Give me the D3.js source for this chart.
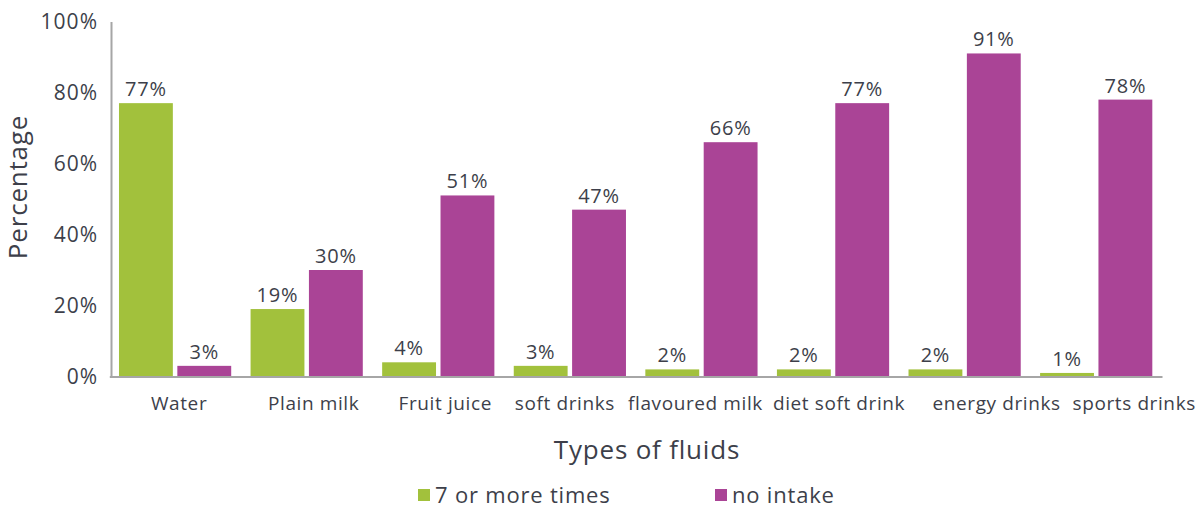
<!DOCTYPE html>
<html>
<head>
<meta charset="utf-8">
<script src="https://d3js.org/d3.v7.min.js"></script>
<style>
  body { margin: 0; background: #fff; }
  text { font-family: "Open Sans", sans-serif; fill: #3d3f4a; }
</style>
</head>
<body>
<div id="canvas"></div>
<script>
"use strict"

let svgWidth = 1201;
let svgHeight = 508;

/* plot area */
let leftMargin = 109.3
let rightMargin = 39
let topMargin = 21.5
let bottomMargin = 131.5
let yAxisX = 111

/* data */
let categories = ["Water", "Plain milk", "Fruit juice", "soft drinks",
    "flavoured milk", "diet soft drink", "energy drinks", "sports drinks"];
let sevenOrMore = [77, 19, 4, 3, 2, 2, 2, 1];
let noIntake = [3, 30, 51, 47, 66, 77, 91, 78];
let seriesNames = ["7 or more times", "no intake"];
let yTicks = [0, 20, 40, 60, 80, 100];

/* category labels are pushed sideways so the long ones do not collide */
let labelNudge = [4, 7, 7, -5, -6, 6, 32, 38];

let colors = ["#a2c13c", "#aa4496"];

let svg = d3.select("#canvas")
    .append("svg")
    .attr("width", svgWidth)
    .attr("height", svgHeight);

let xScale = d3.scaleBand()
    .domain(categories)
    .range([leftMargin, svgWidth - rightMargin])
    .paddingInner(0)
    .paddingOuter(0);

let subScale = d3.scaleBand()
    .domain([0, 1])
    .range([0, xScale.bandwidth()])
    .paddingInner(0.077)
    .paddingOuter(0.166);

let yScale = d3.scaleLinear()
    .domain([0, 100])
    .range([svgHeight - bottomMargin, topMargin]);

let rows = categories.map((c, i) => ({
    category: c,
    values: [sevenOrMore[i], noIntake[i]]
}));

/* bars */
let groups = svg.selectAll("g.group")
    .data(rows)
    .join("g")
    .attr("class", "group")
    .attr("transform", d => "translate(" + xScale(d.category) + ",0)");

groups.selectAll("rect")
    .data(d => d.values.map((v, s) => ({ v: v, s: s })))
    .join("rect")
    .attr("x", d => subScale(d.s))
    .attr("width", subScale.bandwidth())
    .attr("y", d => yScale(d.v))
    .attr("height", d => yScale(0) - yScale(d.v))
    .attr("fill", d => colors[d.s]);

groups.selectAll("text.val")
    .data(d => d.values.map((v, s) => ({ v: v, s: s })))
    .join("text")
    .attr("class", "val")
    .attr("x", d => subScale(d.s) + subScale.bandwidth() / 2)
    .attr("y", d => yScale(d.v) - 7)
    .attr("text-anchor", "middle")
    .style("font-size", "20px")
    .style("letter-spacing", "0.8px")
    .text(d => d.v + "%");

/* x axis */
let xAxis = svg.append("g")
    .attr("transform", "translate(0," + yScale(0) + ")")
    .call(d3.axisBottom(xScale).tickSize(0).tickPadding(20));
xAxis.select(".domain").attr("stroke", "#a6a6a6").attr("stroke-width", 2);
xAxis.selectAll("text")
    .attr("dx", (d, i) => labelNudge[i])
    .style("font-size", "19px")
    .style("letter-spacing", "0.6px")
    .style("font-family", "'Open Sans', sans-serif")
    .style("fill", "#3d3f4a");

/* y axis */
let yAxis = svg.append("g")
    .attr("transform", "translate(" + yAxisX + ",0)")
    .call(d3.axisLeft(yScale).tickValues(yTicks).tickSize(0).tickPadding(13)
        .tickFormat(d => d + "%"));
yAxis.select(".domain").attr("stroke", "#a6a6a6").attr("stroke-width", 2);
yAxis.selectAll("text")
    .style("font-size", "21px")
    .style("letter-spacing", "1px")
    .style("font-family", "'Open Sans', sans-serif")
    .style("fill", "#3d3f4a");

/* axis titles */
svg.append("text")
    .attr("x", 647)
    .attr("y", 459)
    .attr("text-anchor", "middle")
    .style("font-size", "26px")
    .style("letter-spacing", "0.8px")
    .text("Types of fluids");

svg.append("text")
    .attr("transform", "translate(27,187) rotate(-90)")
    .attr("text-anchor", "middle")
    .style("font-size", "26px")
    .style("letter-spacing", "0.8px")
    .text("Percentage");

/* legend */
let legendX = [418, 715];
seriesNames.forEach(function(name, i) {
    svg.append("rect")
        .attr("x", legendX[i])
        .attr("y", 489)
        .attr("width", 12)
        .attr("height", 12)
        .attr("fill", colors[i]);
    svg.append("text")
        .attr("x", legendX[i] + 17)
        .attr("y", 503)
        .style("font-size", "22px")
        .style("letter-spacing", "0.8px")
        .text(name);
});
</script>
</body>
</html>
